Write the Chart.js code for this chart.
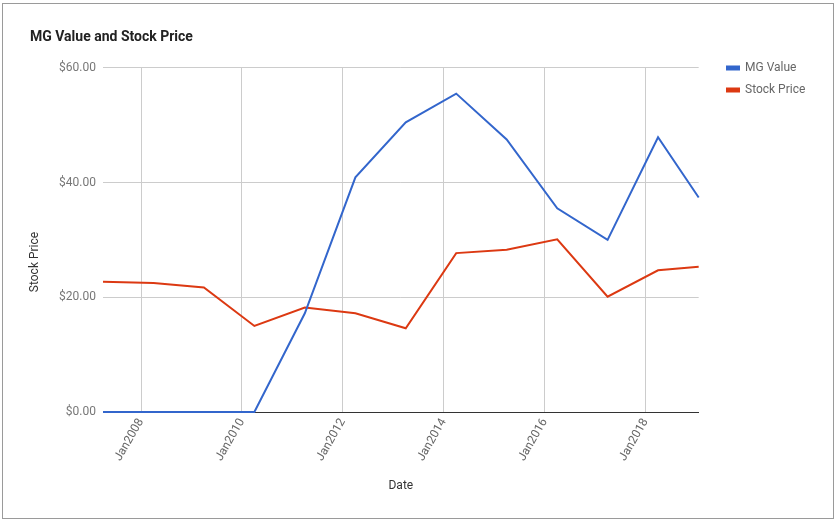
<!DOCTYPE html>
<html>
<head>
<meta charset="utf-8">
<script src="https://cdn.jsdelivr.net/npm/chart.js@4/dist/chart.umd.min.js"></script>
<style>
  html, body { margin: 0; padding: 0; background: #fff; }
  #wrap { position: relative; width: 837px; height: 522px; }
  #frame { position: absolute; left: 2px; top: 3px; width: 830px; height: 514px; border: 1px solid #9a9a9a; pointer-events: none; }
</style>
</head>
<body>
<div id="wrap">
  <canvas id="chart" width="837" height="522"></canvas>
  <div id="frame"></div>
</div>
<script>
// Даты наблюдений (примерно раз в год)
const dates = ['2007-04-01', '2008-04-01', '2009-04-01', '2010-04-01', '2011-04-01', '2012-04-01',
               '2013-04-01', '2014-04-01', '2015-04-01', '2016-04-01', '2017-04-01', '2018-04-01', '2019-01-20'];
const mgValue = [0, 0, 0, 0, 17.2, 40.9, 50.5, 55.5, 47.5, 35.5, 30.0, 47.9, 37.4];
const stockPrice = [22.7, 22.5, 21.7, 15.0, 18.2, 17.2, 14.6, 27.7, 28.3, 30.1, 20.1, 24.7, 25.3];
const tickYears = [2008, 2010, 2012, 2014, 2016, 2018];
const tickLabels = ['Jan2008', 'Jan2010', 'Jan2012', 'Jan2014', 'Jan2016', 'Jan2018'];
const yTicks = [0, 20, 40, 60];
const yTitle = 'Stock Price';

// дата -> дробный год
function toYear(s) {
    const d = new Date(s + 'T00:00:00Z');
    const y = d.getUTCFullYear();
    const start = Date.UTC(y, 0, 1), end = Date.UTC(y + 1, 0, 1);
    return y + (d.getTime() - start) / (end - start);
}
const xs = dates.map(toYear);

const font = 'Roboto, Arial, sans-serif';

// подпись оси Y и сдвиг легенды
const extras = {
    id: 'extras',
    afterLayout(chart) {
        const l = chart.legend;
        l.left = 717;
        l.right = 835;
        l.width = 118;
        l.top = 52;
        l.bottom = 120;
        l.height = 68;
    },
    afterDraw(chart) {
        const ctx = chart.ctx;
        ctx.save();
        ctx.translate(35, 262);
        ctx.rotate(-Math.PI / 2);
        ctx.font = '12px ' + font;
        ctx.fillStyle = '#333';
        ctx.textAlign = 'center';
        ctx.textBaseline = 'middle';
        ctx.fillText(yTitle, 0, 0);
        ctx.restore();
    }
};

const ctx = document.getElementById('chart').getContext('2d');
new Chart(ctx, {
    type: 'line',
    data: {
        datasets: [{
            label: 'MG Value',
            data: xs.map((x, i) => ({ x: x, y: mgValue[i] })),
            borderColor: '#3366cc',
            backgroundColor: '#3366cc',
            borderWidth: 2,
            pointRadius: 0,
            tension: 0,
            clip: 3
        }, {
            label: 'Stock Price',
            data: xs.map((x, i) => ({ x: x, y: stockPrice[i] })),
            borderColor: '#dc3912',
            backgroundColor: '#dc3912',
            borderWidth: 2,
            pointRadius: 0,
            tension: 0,
            clip: 3
        }]
    },
    options: {
        responsive: false,
        animation: false,
        layout: { padding: { left: 30, right: 40, top: 0, bottom: 25 } },
        plugins: {
            title: {
                display: true,
                text: 'MG Value and Stock Price',
                align: 'start',
                color: '#222',
                font: { family: font, size: 14, weight: 'bold' },
                padding: { top: 29, bottom: 22 }
            },
            legend: {
                position: 'right',
                align: 'start',
                labels: {
                    boxWidth: 12,
                    boxHeight: 3,
                    padding: 10,
                    color: '#666',
                    font: { family: font, size: 12 }
                }
            },
            tooltip: { enabled: false }
        },
        scales: {
            x: {
                type: 'linear',
                min: xs[0],
                max: xs[xs.length - 1],
                afterBuildTicks: function(scale) {
                    scale.ticks = tickYears.map(v => ({ value: v }));
                },
                afterFit: function(scale) { scale.height = 85; },
                ticks: {
                    minRotation: 60,
                    maxRotation: 60,
                    padding: 4,
                    color: '#666',
                    font: { family: font, size: 12 },
                    callback: function(v) {
                        const i = tickYears.indexOf(v);
                        return i >= 0 ? tickLabels[i] : '';
                    }
                },
                grid: { color: '#cccccc', drawTicks: false },
                border: { display: true, color: '#333', width: 1 },
                title: {
                    display: true,
                    text: 'Date',
                    color: '#333',
                    font: { family: font, size: 12 }
                }
            },
            y: {
                min: 0,
                max: 60,
                afterBuildTicks: function(scale) {
                    scale.ticks = yTicks.map(v => ({ value: v }));
                },
                afterFit: function(scale) { scale.width = 73; },
                ticks: {
                    padding: 7,
                    color: '#777',
                    font: { family: font, size: 12 },
                    callback: v => '$' + v.toFixed(2)
                },
                grid: { color: '#cccccc', drawTicks: false },
                border: { display: false }
            }
        }
    },
    plugins: [extras]
});
</script>
</body>
</html>
